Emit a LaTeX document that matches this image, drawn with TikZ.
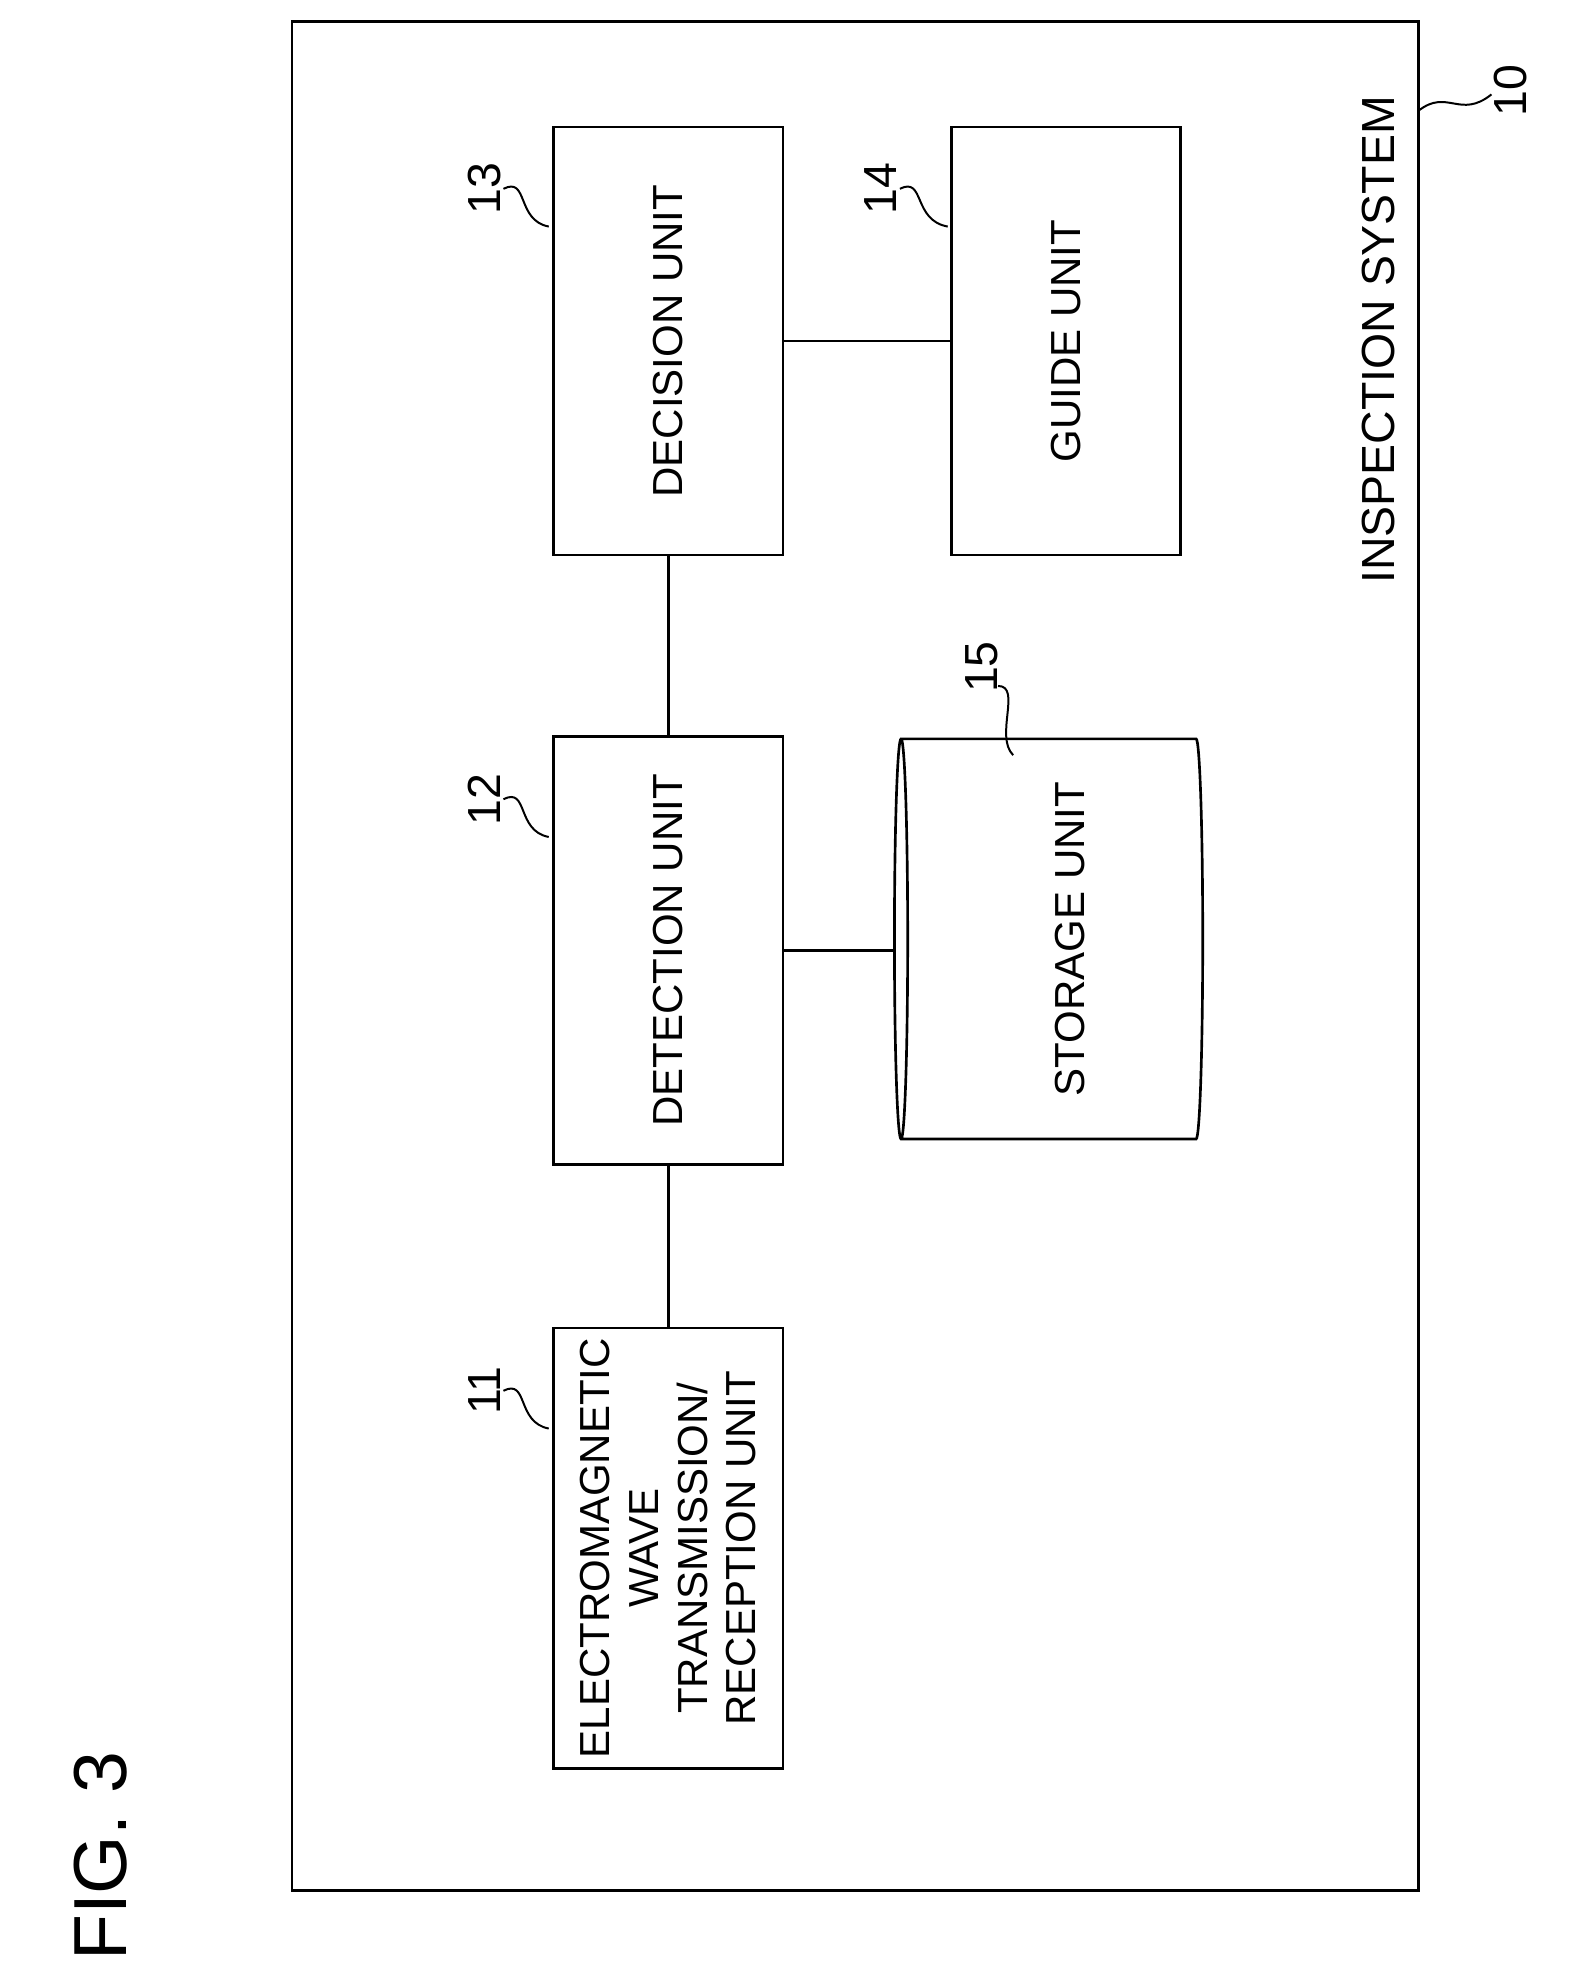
\documentclass[tikz,border=0pt]{standalone}
\usepackage{fontspec}
\setmainfont{Liberation Sans}
\usetikzlibrary{shapes.geometric}
\tikzset{
  unit/.style={draw, line width=1.2pt, minimum width=6.8cm, minimum height=3.64cm, rotate=90, align=center, font=\fontsize{19}{22}\selectfont},
  ref/.style={rotate=90, font=\fontsize{21}{24}\selectfont},
  lead/.style={line width=0.9pt},
  link/.style={line width=1.2pt}
}
\begin{document}
\begin{tikzpicture}[x=0.02cm,y=0.02cm]
  \useasboundingbox (0,0) rectangle (1250,-1570);
  % outer system box
  \draw [line width=1.2pt] (232,-17) rectangle (1127,-1502);
  \node [ref] (sys) at (1095,-270) {INSPECTION SYSTEM};
  \node [ref] (fig) at (80,-1475) {\fontsize{34}{38}\selectfont FIG. 3};
  % units
  \node [unit] (dec) at (531,-271) {DECISION UNIT};
  \node [unit] (gui) at (847,-271) {GUIDE UNIT};
  \node [unit] (det) at (531,-755) {DETECTION UNIT};
  \node [unit, minimum width=7cm] (emw) at (531,-1230) {ELECTROMAGNETIC\\WAVE\\TRANSMISSION/\\RECEPTION UNIT};
  \node [draw, line width=1.2pt, cylinder, shape border rotate=180, aspect=0.9, minimum width=6.36cm, minimum height=4.9cm] (sto) at (837,-746) {};
  \node [rotate=90, font=\fontsize{19}{22}\selectfont] (stot) at (850,-746) {STORAGE UNIT};
  % connectors
  \draw [link] (dec.south) -- (gui.north);
  \draw [link] (dec.west) -- (det.east);
  \draw [link] (det.west) -- (emw.east);
  \draw [link] (det.south) -- (sto.west |- det.south);
  % reference numerals
  \node [ref] (n13) at (385,-150) {13};
  \node [ref] (n14) at (700,-150) {14};
  \node [ref] (n12) at (385,-635) {12};
  \node [ref] (n15) at (780,-530) {15};
  \node [ref] (n11) at (385,-1105) {11};
  \node [ref] (n10) at (1200,-72) {10};
  \coordinate (c13) at (436,-180);
  \coordinate (c14) at (753,-180);
  \coordinate (c12) at (436,-665);
  \coordinate (c15) at (805,-600);
  \coordinate (c11) at (436,-1135);
  \coordinate (c10) at (1127,-88);
  \draw [lead] (400,-150) .. controls (420,-140) and (410,-175) .. (c13);
  \draw [lead] (715,-150) .. controls (735,-140) and (725,-175) .. (c14);
  \draw [lead] (400,-635) .. controls (420,-625) and (410,-660) .. (c12);
  \draw [lead] (793,-545) .. controls (812,-545) and (790,-585) .. (c15);
  \draw [lead] (400,-1105) .. controls (420,-1095) and (410,-1130) .. (c11);
  \draw [lead] (c10) .. controls (1150,-70) and (1160,-95) .. (1185,-75);
\end{tikzpicture}
\end{document}
